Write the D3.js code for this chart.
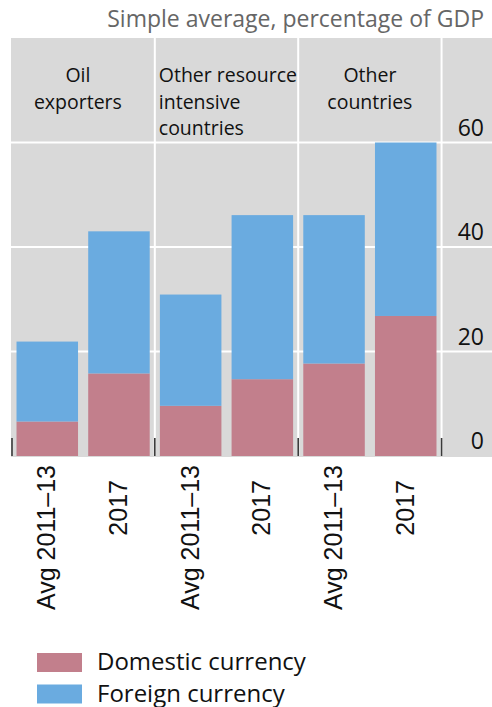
<!DOCTYPE html>
<html lang="en">
<head>
  <meta charset="UTF-8">
  <title>Domestic and foreign currency debt</title>
  <script src="https://d3js.org/d3.v7.min.js"></script>
  <style>
    body { margin: 0; background: #fff; }
    svg { display: block; }
  </style>
</head>
<body>
  <div id="chart"></div>
  <script>
    // data (percent of GDP)
    const groups = ["Oil exporters", "Other resource intensive countries", "Other countries"]
    const groupLines = [["Oil", "exporters"], ["Other resource", "intensive", "countries"], ["Other", "countries"]]
    const periods = ["Avg 2011\u201313", "2017"]
    const domestic = [6.6, 15.8, 9.6, 14.7, 17.7, 26.8]
    const foreign = [15.3, 27.2, 21.3, 31.4, 28.4, 33.2]
    const yTicks = [0, 20, 40, 60]
    const seriesNames = ["Domestic currency", "Foreign currency"]

    const W = 492, H = 707
    const colors = { domestic: "#c27f8c", foreign: "#6aabe0", panel: "#d9d9d9" }
    const segoe = "'Open Sans', 'Noto Sans', sans-serif"

    const rows = []
    groups.forEach((g, gi) => {
      periods.forEach((p, pi) => {
        const i = gi * periods.length + pi
        rows.push({ id: g + "|" + p, group: gi, period: p, domestic: domestic[i], foreign: foreign[i] })
      })
    })

    const svg = d3.select("#chart").append("svg")
      .attr("width", W)
      .attr("height", H)

    const x = d3.scaleBand()
      .domain(rows.map(d => d.id))
      .range([11, 442])
      .paddingInner(0.142)
      .paddingOuter(0.077)

    const y = d3.scaleLinear()
      .domain([0, 80])
      .range([456, 38])

    // grey plot background, reaching under the axis labels
    svg.append("rect")
      .attr("x", 11).attr("y", y(80))
      .attr("width", W - 11).attr("height", y(0) - y(80) + 1)
      .attr("fill", colors.panel)

    // horizontal grid
    svg.append("g").selectAll("line")
      .data(yTicks.filter(t => t > 0))
      .join("line")
      .attr("x1", 11).attr("x2", W)
      .attr("y1", d => y(d)).attr("y2", d => y(d))
      .attr("stroke", "#fff").attr("stroke-width", 2)

    // panel separators between the groups
    const step = x.step(), bw = x.bandwidth()
    const bounds = groups.map((g, gi) => {
      const last = rows.filter(d => d.group === gi).slice(-1)[0]
      return x(last.id) + bw + (step - bw) / 2
    })
    svg.append("g").selectAll("line")
      .data(bounds)
      .join("line")
      .attr("x1", d => d).attr("x2", d => d)
      .attr("y1", y(80)).attr("y2", y(0))
      .attr("stroke", "#fff").attr("stroke-width", 2)

    // stacked bars
    const stack = d3.stack().keys(["domestic", "foreign"])(rows)
    svg.append("g").selectAll("g")
      .data(stack)
      .join("g")
      .attr("fill", s => colors[s.key])
      .selectAll("rect")
      .data(s => s)
      .join("rect")
      .attr("x", d => x(d.data.id))
      .attr("width", bw)
      .attr("y", d => y(d[1]))
      .attr("height", d => y(d[0]) - y(d[1]))

    // short dark ticks at the group edges
    svg.append("g").selectAll("line")
      .data([x.range()[0] + 1].concat(bounds))
      .join("line")
      .attr("x1", d => d).attr("x2", d => d)
      .attr("y1", y(0) - 18).attr("y2", y(0))
      .attr("stroke", "#3a3a3a").attr("stroke-width", 1.6)

    // y labels on the right, sitting above their gridline
    svg.append("g").selectAll("text")
      .data(yTicks)
      .join("text")
      .attr("x", 484)
      .attr("y", d => y(d) - 7)
      .attr("text-anchor", "end")
      .style("font", "23px " + segoe)
      .attr("fill", "#111")
      .text(d => d)

    // group names inside the panels
    const groupText = svg.append("g").selectAll("text")
      .data(groupLines)
      .join("text")
      .style("font", "19.5px " + segoe)
      .attr("fill", "#111")
      .attr("text-anchor", (d, i) => i === 1 ? "start" : "middle")
      .attr("x", (d, i) => {
        const left = i === 0 ? x.range()[0] : bounds[i - 1]
        return i === 1 ? left + 4 : (left + bounds[i]) / 2 - (i === 0 ? 5 : 0)
      })
    groupText.selectAll("tspan")
      .data(d => d)
      .join("tspan")
      .attr("x", function () { return this.parentNode.getAttribute("x") })
      .attr("y", (d, j) => 82 + j * 26.5)
      .text(d => d)

    // rotated period labels
    svg.append("g").selectAll("text")
      .data(rows)
      .join("text")
      .attr("transform", d => {
        const cx = x(d.id) + bw / 2 + 8
        const top = d.period.length > 5 ? 465 : 480
        return "translate(" + cx + "," + top + ") rotate(-90)"
      })
      .attr("text-anchor", "end")
      .style("font", "25px 'Liberation Sans', Arial, sans-serif")
      .attr("fill", "#111")
      .text(d => d.period)

    // title
    svg.append("text")
      .attr("x", 484).attr("y", 27)
      .attr("text-anchor", "end")
      .style("font", "23px " + segoe)
      .attr("fill", "#666")
      .text("Simple average, percentage of GDP")

    // legend
    const legend = svg.append("g").selectAll("g")
      .data(seriesNames)
      .join("g")
      .attr("transform", (d, i) => "translate(37," + (653 + i * 31.5) + ")")
    legend.append("rect")
      .attr("width", 45).attr("height", 19)
      .attr("fill", (d, i) => i === 0 ? colors.domestic : colors.foreign)
    legend.append("text")
      .attr("x", 60).attr("y", 17)
      .style("font", "24px " + segoe)
      .attr("fill", "#111")
      .text(d => d)
  </script>
</body>
</html>
